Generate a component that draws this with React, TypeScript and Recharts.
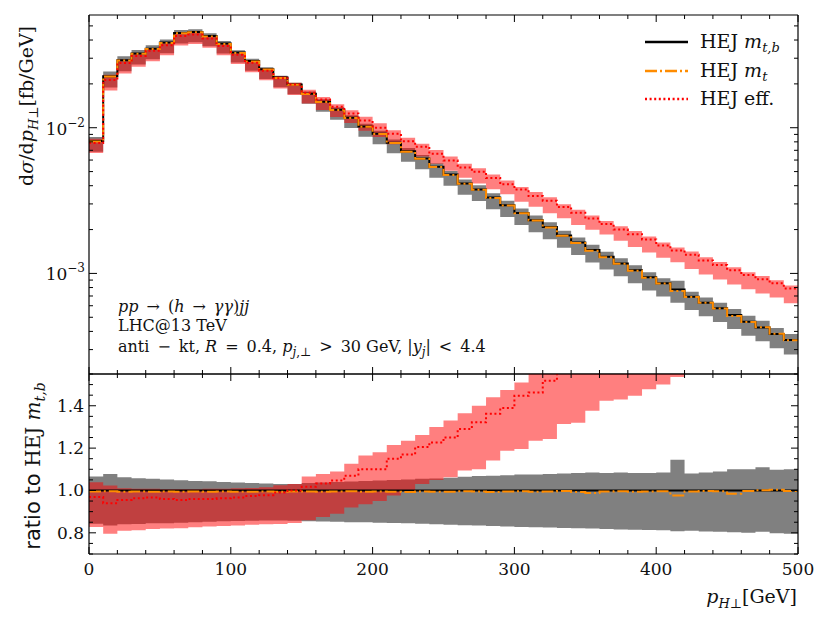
import { ComposedChart, Area, Line, XAxis, YAxis } from "recharts";

// lower edges of the 10 GeV bins in p_H⊥
const binLow = [
  0, 10, 20, 30, 40, 50, 60, 70, 80, 90,
  100, 110, 120, 130, 140, 150, 160, 170, 180, 190,
  200, 210, 220, 230, 240, 250, 260, 270, 280, 290,
  300, 310, 320, 330, 340, 350, 360, 370, 380, 390,
  400, 410, 420, 430, 440, 450, 460, 470, 480, 490,
];
const lastEdge = 500;

// HEJ m_t,b  dσ/dp_H⊥ [fb/GeV]
const hejMtb = [
  0.0081, 0.0226, 0.0291, 0.0323, 0.0349, 0.0384, 0.0447, 0.0454, 0.0426, 0.0378,
  0.0328, 0.0287, 0.0252, 0.0221, 0.0198, 0.0171, 0.0151, 0.0133, 0.0117, 0.0102,
  0.0091, 0.0079, 0.0069, 0.00615, 0.0054, 0.00477, 0.00414, 0.00377, 0.00332, 0.00294,
  0.0026, 0.00232, 0.00208, 0.00182, 0.00163, 0.00145, 0.0013, 0.00117, 0.00105, 0.00094,
  0.000855, 0.000777, 0.000692, 0.00063, 0.000576, 0.000518, 0.000466, 0.000426, 0.000384, 0.000349,
];

// HEJ m_t over HEJ m_t,b
const mtRatio = [
  0.995, 0.996, 0.994, 0.995, 0.994, 0.995, 0.994, 0.995, 0.994, 0.995,
  0.994, 0.994, 0.995, 0.994, 0.995, 0.995, 0.994, 0.995, 0.996, 0.994,
  0.995, 0.994, 0.993, 0.995, 0.994, 0.994, 0.996, 0.995, 0.993, 0.995,
  0.996, 0.994, 0.995, 0.997, 0.993, 0.988, 0.995, 0.996, 0.994, 0.995,
  0.996, 0.976, 0.995, 0.998, 0.996, 0.985, 0.997, 1.001, 1.003, 0.997,
];

// HEJ eff. over HEJ m_t,b
const effRatio = [
  0.969, 0.94, 0.955, 0.963, 0.967, 0.96, 0.955, 0.96, 0.96, 0.963,
  0.967, 0.974, 0.978, 0.99, 1.0, 1.017, 1.033, 1.047, 1.07, 1.1,
  1.1, 1.15, 1.17, 1.205, 1.227, 1.25, 1.29, 1.322, 1.362, 1.39,
  1.447, 1.463, 1.518, 1.57, 1.6, 1.64, 1.68, 1.71, 1.77, 1.82,
  1.82, 1.85, 1.94, 1.95, 1.98, 2.03, 2.09, 2.14, 2.23, 2.26,
];

// scale-variation band of HEJ m_t,b, relative to HEJ m_t,b
const mtbBandLo = [
  0.843, 0.835, 0.84, 0.842, 0.845, 0.845, 0.848, 0.85, 0.852, 0.855,
  0.856, 0.857, 0.858, 0.858, 0.857, 0.855, 0.854, 0.852, 0.85, 0.85,
  0.848, 0.846, 0.845, 0.843, 0.84, 0.838, 0.836, 0.834, 0.832, 0.83,
  0.828, 0.826, 0.825, 0.823, 0.822, 0.82, 0.818, 0.816, 0.815, 0.813,
  0.812, 0.808, 0.81, 0.806, 0.805, 0.803, 0.8, 0.805, 0.798, 0.796,
];
const mtbBandHi = [
  1.066, 1.078, 1.062, 1.058, 1.055, 1.052, 1.048, 1.045, 1.043, 1.04,
  1.038, 1.035, 1.033, 1.03, 1.03, 1.035, 1.038, 1.04, 1.042, 1.045,
  1.047, 1.05, 1.052, 1.055, 1.057, 1.06, 1.065, 1.068, 1.07, 1.072,
  1.075, 1.075, 1.078, 1.08, 1.082, 1.085, 1.082, 1.085, 1.083, 1.082,
  1.085, 1.145, 1.08, 1.085, 1.09, 1.1, 1.1, 1.11, 1.098, 1.1,
];

// scale-variation band of HEJ eff., relative to HEJ m_t,b
const effBandLo = [
  0.827, 0.796, 0.81, 0.812, 0.818, 0.82, 0.822, 0.826, 0.83, 0.832,
  0.835, 0.838, 0.84, 0.842, 0.846, 0.859, 0.875, 0.89, 0.92, 0.935,
  0.95, 0.976, 1.0, 1.03, 1.05, 1.063, 1.094, 1.1, 1.141, 1.188,
  1.196, 1.235, 1.243, 1.314, 1.32, 1.376, 1.424, 1.43, 1.447, 1.478,
  1.5, 1.536, 1.55, 1.56, 1.58, 1.62, 1.67, 1.71, 1.78, 1.79,
];
const effBandHi = [
  1.039, 1.024, 1.01, 1.008, 1.008, 1.006, 1.006, 1.006, 1.008, 1.008,
  1.01, 1.012, 1.015, 1.025, 1.03, 1.066, 1.078, 1.09, 1.126, 1.165,
  1.18, 1.215, 1.235, 1.262, 1.3, 1.33, 1.365, 1.4, 1.44, 1.475,
  1.51, 1.56, 1.6, 1.64, 1.68, 1.72, 1.76, 1.8, 1.86, 1.91,
  1.91, 1.94, 2.04, 2.05, 2.08, 2.13, 2.19, 2.25, 2.34, 2.37,
];

const xTicks = [
  0, 20, 40, 60, 80, 100, 120, 140, 160, 180, 200, 220, 240,
  260, 280, 300, 320, 340, 360, 380, 400, 420, 440, 460, 480, 500,
];
const logTicks = [
  3e-4, 4e-4, 5e-4, 6e-4, 7e-4, 8e-4, 9e-4, 1e-3,
  2e-3, 3e-3, 4e-3, 5e-3, 6e-3, 7e-3, 8e-3, 9e-3, 1e-2,
  2e-2, 3e-2, 4e-2, 5e-2,
];
const ratioTicks = [
  0.7, 0.75, 0.8, 0.85, 0.9, 0.95, 1.0, 1.05, 1.1, 1.15,
  1.2, 1.25, 1.3, 1.35, 1.4, 1.45, 1.5, 1.55,
];
const ratioLabels = [0.8, 1.0, 1.2, 1.4];

const SERIF = "'DejaVu Serif', 'Liberation Serif', serif";
const SANS = "'DejaVu Sans', sans-serif";
const INK = "#111";
const GREY = "#808080";
const ORANGE = "#ff8c00";
const RED = "#ff0000";
const DASHDOT = "12 3 2 3";
const DOTTED = "2 2.6";
const SP = "\u2002"; // en space, for math-style spacing round relations

// step rows: one per bin lower edge plus the closing edge
const rows = binLow.map((x, i) => ({ x, i }));
rows.push({ x: lastEdge, i: binLow.length - 1 });

const topData = rows.map(({ x, i }) => ({
  x,
  mtb: hejMtb[i],
  mt: hejMtb[i] * mtRatio[i],
  eff: hejMtb[i] * effRatio[i],
  grey: [hejMtb[i] * mtbBandLo[i], hejMtb[i] * mtbBandHi[i]],
  red: [hejMtb[i] * effBandLo[i], hejMtb[i] * effBandHi[i]],
}));

const ratioData = rows.map(({ x, i }) => ({
  x,
  mtb: hejMtb[i] / hejMtb[i],
  mt: mtRatio[i],
  eff: effRatio[i],
  grey: [mtbBandLo[i], mtbBandHi[i]],
  red: [effBandLo[i], effBandHi[i]],
}));

const xTick = (dir: number, labels: boolean) => (p: any) => {
  const v = p.payload.value;
  const major = v % 100 === 0;
  const len = major ? 7 : 4;
  return (
    <g>
      <line x1={p.x} x2={p.x} y1={p.y} y2={p.y + dir * len} stroke="#000" strokeWidth={1} />
      {labels && major && (
        <text x={p.x} y={p.y + 21} textAnchor="middle" fontFamily={SERIF} fontSize={17} fill={INK}>
          {v}
        </text>
      )}
    </g>
  );
};

const logTick = (dir: number, labels: boolean) => (p: any) => {
  const v = p.payload.value;
  const e = Math.log10(v);
  const major = Math.abs(e - Math.round(e)) < 1e-6;
  const len = major ? 8 : 4;
  return (
    <g>
      <line x1={p.x} x2={p.x + dir * len} y1={p.y} y2={p.y} stroke="#000" strokeWidth={1} />
      {labels && major && (
        <text x={p.x - 4} y={p.y + 7} textAnchor="end" fontFamily={SERIF} fontSize={17} fill={INK}>
          10
          <tspan dy={-8} fontSize={12}>
            {"\u2212" + String(-Math.round(e))}
          </tspan>
        </text>
      )}
    </g>
  );
};

const ratioTick = (dir: number, labels: boolean) => (p: any) => {
  const v = p.payload.value;
  const major = ratioLabels.some((r) => Math.abs(r - v) < 1e-6);
  const len = major ? 7 : 4;
  return (
    <g>
      <line x1={p.x} x2={p.x + dir * len} y1={p.y} y2={p.y} stroke="#000" strokeWidth={1} />
      {labels && major && (
        <text x={p.x - 5} y={p.y + 6} textAnchor="end" fontFamily={SERIF} fontSize={17} fill={INK}>
          {v.toFixed(1)}
        </text>
      )}
    </g>
  );
};

const frame = { stroke: "#000", strokeWidth: 1.2 };

export default function App() {
  return (
    <div style={{ position: "absolute", left: 0, top: 0, width: 830, height: 623, background: "#fff" }}>
      <div style={{ position: "absolute", left: 0, top: 0 }}>
        <ComposedChart width={830} height={380} data={topData} margin={{ top: 14, right: 31, bottom: 5, left: 88 }}>
          <XAxis xAxisId="b" dataKey="x" type="number" domain={[0, 500]} allowDataOverflow ticks={xTicks}
            interval={0} height={1} tickSize={0} tickMargin={0} tickLine={false} axisLine={frame} tick={xTick(-1, false)} />
          <XAxis xAxisId="t" orientation="top" dataKey="x" type="number" domain={[0, 500]} allowDataOverflow ticks={xTicks}
            interval={0} height={1} tickSize={0} tickMargin={0} tickLine={false} axisLine={frame} tick={xTick(1, false)} />
          <YAxis yAxisId="l" type="number" scale="log" domain={[2.04e-4, 0.0594]} allowDataOverflow ticks={logTicks}
            interval={0} width={1} tickSize={0} tickMargin={0} tickLine={false} axisLine={frame} tick={logTick(1, true)} />
          <YAxis yAxisId="r" orientation="right" type="number" scale="log" domain={[2.04e-4, 0.0594]} allowDataOverflow ticks={logTicks}
            interval={0} width={1} tickSize={0} tickMargin={0} tickLine={false} axisLine={frame} tick={logTick(-1, false)} />
          <Area xAxisId="b" yAxisId="l" dataKey="grey" type="stepAfter" stroke="none" fill={GREY} fillOpacity={1} isAnimationActive={false} />
          <Area xAxisId="b" yAxisId="l" dataKey="red" type="stepAfter" stroke="none" fill={RED} fillOpacity={0.5} isAnimationActive={false} />
          <Line xAxisId="b" yAxisId="l" dataKey="mtb" type="stepAfter" stroke="#000" strokeWidth={2} dot={false} isAnimationActive={false} />
          <Line xAxisId="b" yAxisId="l" dataKey="mt" type="stepAfter" stroke={ORANGE} strokeWidth={2} strokeDasharray={DASHDOT} dot={false} isAnimationActive={false} />
          <Line xAxisId="b" yAxisId="l" dataKey="eff" type="stepAfter" stroke={RED} strokeWidth={2} strokeDasharray={DOTTED} dot={false} isAnimationActive={false} />
        </ComposedChart>
      </div>
      <div style={{ position: "absolute", left: 0, top: 368 }}>
        <ComposedChart width={830} height={255} data={ratioData} margin={{ top: 5, right: 31, bottom: 68, left: 88 }}>
          <XAxis xAxisId="b" dataKey="x" type="number" domain={[0, 500]} allowDataOverflow ticks={xTicks}
            interval={0} height={1} tickSize={0} tickMargin={0} tickLine={false} axisLine={frame} tick={xTick(-1, true)} />
          <XAxis xAxisId="t" orientation="top" dataKey="x" type="number" domain={[0, 500]} allowDataOverflow ticks={xTicks}
            interval={0} height={1} tickSize={0} tickMargin={0} tickLine={false} axisLine={frame} tick={xTick(1, false)} />
          <YAxis yAxisId="l" type="number" domain={[0.7, 1.55]} allowDataOverflow ticks={ratioTicks}
            interval={0} width={1} tickSize={0} tickMargin={0} tickLine={false} axisLine={frame} tick={ratioTick(1, true)} />
          <YAxis yAxisId="r" orientation="right" type="number" domain={[0.7, 1.55]} allowDataOverflow ticks={ratioTicks}
            interval={0} width={1} tickSize={0} tickMargin={0} tickLine={false} axisLine={frame} tick={ratioTick(-1, false)} />
          <Area xAxisId="b" yAxisId="l" dataKey="grey" type="stepAfter" stroke="none" fill={GREY} fillOpacity={1} isAnimationActive={false} />
          <Area xAxisId="b" yAxisId="l" dataKey="red" type="stepAfter" stroke="none" fill={RED} fillOpacity={0.5} isAnimationActive={false} />
          <Line xAxisId="b" yAxisId="l" dataKey="mtb" type="stepAfter" stroke="#000" strokeWidth={2} dot={false} isAnimationActive={false} />
          <Line xAxisId="b" yAxisId="l" dataKey="mt" type="stepAfter" stroke={ORANGE} strokeWidth={2} strokeDasharray={DASHDOT} dot={false} isAnimationActive={false} />
          <Line xAxisId="b" yAxisId="l" dataKey="eff" type="stepAfter" stroke={RED} strokeWidth={2} strokeDasharray={DOTTED} dot={false} isAnimationActive={false} />
        </ComposedChart>
      </div>
      <svg width={830} height={623} style={{ position: "absolute", left: 0, top: 0, pointerEvents: "none" }}>
        {/* legend */}
        <line x1={645} x2={688} y1={42} y2={42} stroke="#000" strokeWidth={2.5} />
        <line x1={645} x2={688} y1={71} y2={71} stroke={ORANGE} strokeWidth={2.5} strokeDasharray={DASHDOT} />
        <line x1={645} x2={688} y1={99} y2={99} stroke={RED} strokeWidth={2.5} strokeDasharray={DOTTED} />
        <g fontFamily={SERIF} fontSize={19} fill={INK}>
          <text x={700} y={48}>
            HEJ <tspan fontStyle="italic">m</tspan>
            <tspan dy={4} fontSize={13} fontStyle="italic">t,b</tspan>
          </text>
          <text x={700} y={77}>
            HEJ <tspan fontStyle="italic">m</tspan>
            <tspan dy={4} fontSize={13} fontStyle="italic">t</tspan>
          </text>
          <text x={700} y={105}>HEJ eff.</text>
        </g>
        {/* process annotation */}
        <g fontFamily={SERIF} fontSize={16} fill={INK}>
          <text x={118} y={312}>
            <tspan fontStyle="italic">pp</tspan>
            {SP + "\u2192" + SP + "("}
            <tspan fontStyle="italic">h</tspan>
            {SP + "\u2192" + SP}
            <tspan fontStyle="italic">γγ</tspan>
            {")"}
            <tspan fontStyle="italic">jj</tspan>
          </text>
          <text x={118} y={331}>LHC@13 TeV</text>
          <text x={118} y={352}>
            {"anti" + SP + "\u2212" + SP + "kt, "}
            <tspan fontStyle="italic">R</tspan>
            {SP + "=" + SP + "0.4, "}
            <tspan fontStyle="italic">p</tspan>
            <tspan dy={4} fontSize={12}>
              <tspan fontStyle="italic">j</tspan>,⊥
            </tspan>
            <tspan dy={-4}>{SP + ">" + SP + "30 GeV, |"}</tspan>
            <tspan fontStyle="italic">y</tspan>
            <tspan dy={4} fontSize={12} fontStyle="italic">j</tspan>
            <tspan dy={-4}>{"|" + SP + "<" + SP + "4.4"}</tspan>
          </text>
        </g>
        {/* axis titles */}
        <text transform="translate(33,106) rotate(-90)" textAnchor="middle" fontFamily={SERIF} fontSize={19} fill={INK}>
          d<tspan fontStyle="italic">σ</tspan>/d<tspan fontStyle="italic">p</tspan>
          <tspan dy={5} fontSize={13} fontStyle="italic">H⊥</tspan>
          <tspan dy={-5}>[fb/GeV]</tspan>
        </text>
        <text transform="translate(40,466) rotate(-90)" textAnchor="middle" fill={INK}>
          <tspan fontFamily={SANS} fontSize={21}>ratio to </tspan>
          <tspan fontFamily={SERIF} fontSize={20}>HEJ </tspan>
          <tspan fontFamily={SERIF} fontSize={20} fontStyle="italic">m</tspan>
          <tspan fontFamily={SERIF} dy={5} fontSize={14} fontStyle="italic">t,b</tspan>
        </text>
        <text x={797} y={603} textAnchor="end" fontFamily={SERIF} fontSize={19} fill={INK}>
          <tspan fontStyle="italic">p</tspan>
          <tspan dy={5} fontSize={13} fontStyle="italic">H⊥</tspan>
          <tspan dy={-5}>[GeV]</tspan>
        </text>
      </svg>
    </div>
  );
}
